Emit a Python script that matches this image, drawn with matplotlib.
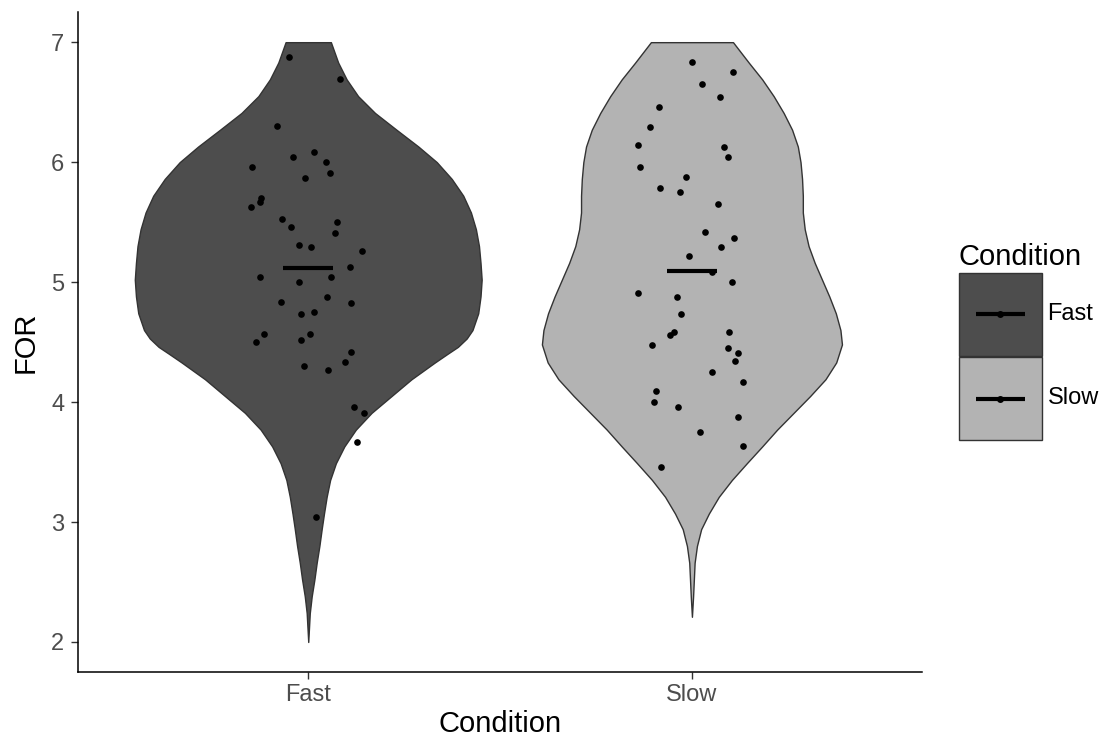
import matplotlib
matplotlib.use("Agg")
import matplotlib.pyplot as plt
import numpy as np
from matplotlib.patches import Rectangle
from matplotlib.lines import Line2D

plt.rcParams['font.family'] = ['Liberation Sans', 'DejaVu Sans']

conditions = ['Fast', 'Slow']
fills = ['#4D4D4D', '#B3B3B3']

# jittered observations: FOR value and horizontal jitter offset
fast_y = [6.877, 6.697, 6.305, 6.088, 6.043, 6.001, 5.959, 5.912, 5.865, 5.700,
          5.667, 5.625, 5.523, 5.500, 5.456, 5.411, 5.306, 5.292, 5.261, 5.124,
          5.044, 5.044, 5.000, 4.874, 4.832, 4.827, 4.749, 4.738, 4.568, 4.502,
          4.568, 4.521, 4.418, 4.331, 4.304, 4.268, 3.956, 3.909, 3.664, 3.038]
fast_jit = [-0.051, 0.083, -0.081, 0.016, -0.041, 0.046, -0.146, 0.057, -0.009, -0.124,
            -0.127, -0.149, -0.069, 0.076, -0.045, 0.070, -0.023, 0.007, 0.139, 0.108,
            -0.127, 0.060, -0.025, 0.049, -0.070, 0.111, 0.014, -0.020, -0.116, -0.136,
            0.005, -0.018, 0.111, 0.096, -0.010, 0.052, 0.120, 0.145, 0.128, 0.021]

slow_y = [6.836, 6.752, 6.655, 6.544, 6.457, 6.293, 6.140, 6.126, 6.043, 5.959,
          5.879, 5.784, 5.751, 5.653, 5.417, 5.364, 5.292, 5.217, 5.086, 5.000,
          4.913, 4.877, 4.738, 4.582, 4.563, 4.582, 4.479, 4.454, 4.412, 4.343,
          4.251, 4.165, 4.090, 4.001, 3.956, 3.872, 3.747, 3.634, 3.458]
slow_jit = [0.001, 0.108, 0.025, 0.072, -0.087, -0.110, -0.140, 0.084, 0.093, -0.136,
            -0.016, -0.084, -0.030, 0.068, 0.034, 0.110, 0.077, -0.007, 0.052, 0.104,
            -0.141, -0.038, -0.029, -0.047, -0.057, 0.097, -0.103, 0.094, 0.119, 0.113,
            0.053, 0.132, -0.094, -0.098, -0.036, 0.119, 0.020, 0.132, -0.080]

# group means
means = [5.116, 5.092]

# violin outline: y levels and half widths (data units)
fast_vy = [7.00, 6.83, 6.69, 6.55, 6.41, 6.27, 6.13, 6.00, 5.86, 5.72, 5.58, 5.44,
           5.30, 5.16, 5.02, 4.88, 4.74, 4.60, 4.53, 4.46, 4.40, 4.33, 4.19, 4.05, 3.91, 3.77,
           3.63, 3.49, 3.35, 3.21, 3.07, 2.94, 2.80, 2.66, 2.52, 2.38, 2.24, 2.00]
fast_hw = [0.059, 0.078, 0.100, 0.130, 0.174, 0.230, 0.287, 0.335, 0.374, 0.404, 0.424, 0.437,
           0.445, 0.449, 0.452, 0.449, 0.443, 0.428, 0.413, 0.390, 0.362, 0.330, 0.269, 0.217,
           0.165, 0.124, 0.094, 0.072, 0.057, 0.048, 0.041, 0.035, 0.029, 0.022, 0.016, 0.009,
           0.004, 0.0]

slow_vy = [7.00, 6.83, 6.69, 6.55, 6.41, 6.27, 6.13, 6.00, 5.86, 5.72, 5.58, 5.44,
           5.30, 5.16, 5.02, 4.88, 4.74, 4.60, 4.48, 4.33, 4.19, 4.05, 3.91, 3.77,
           3.63, 3.49, 3.35, 3.21, 3.07, 2.94, 2.80, 2.66, 2.38, 2.21]
slow_hw = [0.107, 0.148, 0.183, 0.213, 0.239, 0.261, 0.276, 0.283, 0.287, 0.289, 0.289, 0.294,
           0.304, 0.320, 0.339, 0.358, 0.375, 0.387, 0.391, 0.376, 0.348, 0.308, 0.265, 0.222,
           0.183, 0.143, 0.104, 0.070, 0.044, 0.024, 0.013, 0.007, 0.003, 0.0]

fig = plt.figure(figsize=(11.02, 7.43), dpi=100)
ax = fig.add_axes([0.0708, 0.0956, 0.766, 0.888])

violins = [(fast_vy, fast_hw), (slow_vy, slow_hw)]
points = [(fast_y, fast_jit), (slow_y, slow_jit)]
for i, name in enumerate(conditions):
    pos = i + 1
    vy, hw = np.array(violins[i][0]), np.array(violins[i][1])
    ax.fill_betweenx(vy, pos - hw, pos + hw, facecolor=fills[i],
                     edgecolor='#333333', linewidth=1.0, zorder=1)
    py, pj = points[i]
    ax.plot(pos + np.array(pj), py, 'o', color='black', ms=4.8, mew=0, zorder=3)
    ax.plot([pos - 0.065, pos + 0.065], [means[i], means[i]], color='black',
            lw=3, solid_capstyle='butt', zorder=4)

ax.set_xlim(0.4, 2.6)
ax.set_ylim(1.75, 7.25)
ax.set_xticks([1, 2])
ax.set_xticklabels(conditions)
ax.set_yticks([2, 3, 4, 5, 6, 7])
for s in ['top', 'right']:
    ax.spines[s].set_visible(False)
for s in ['left', 'bottom']:
    ax.spines[s].set_linewidth(1.1)
    ax.spines[s].set_color('black')
ax.tick_params(length=4.8, width=1.0, color='#333333', labelcolor='#4D4D4D',
               labelsize=17)
ax.tick_params(axis='y', pad=5)
ax.tick_params(axis='x', pad=4)
ax.set_xlabel('Condition', fontsize=21, labelpad=3)
ax.set_ylabel('FOR', fontsize=21, labelpad=8)


class KeyHandler:
    def legend_artist(self, legend, orig_handle, fontsize, handlebox):
        x0, y0 = -handlebox.xdescent, -handlebox.ydescent
        w, h = handlebox.width, handlebox.height
        tr = handlebox.get_transform()
        rect = Rectangle((x0, y0), w, h, facecolor=orig_handle.get_facecolor(),
                         edgecolor='#333333', lw=1.0, transform=tr)
        line = Line2D([x0 + 0.2 * w, x0 + 0.8 * w], [y0 + h / 2] * 2, color='black',
                      lw=3, solid_capstyle='butt', transform=tr)
        dot = Line2D([x0 + w / 2], [y0 + h / 2], marker='o', ms=5, mew=0,
                     color='black', transform=tr)
        handlebox.add_artist(rect)
        handlebox.add_artist(line)
        handlebox.add_artist(dot)
        return rect


handles = [Rectangle((0, 0), 1, 1, facecolor=c) for c in fills]
leg = fig.legend(handles, conditions, title='Condition', loc='upper left',
                 bbox_to_anchor=(959 / 1102, 1 - 243 / 743), frameon=False,
                 fontsize=17, title_fontsize=21, handlelength=3.5, handleheight=5.03,
                 handletextpad=0.25, labelspacing=0.07, borderpad=0, borderaxespad=0,
                 alignment='left', handler_map={Rectangle: KeyHandler()})

fig.savefig('out.png', dpi=100)
